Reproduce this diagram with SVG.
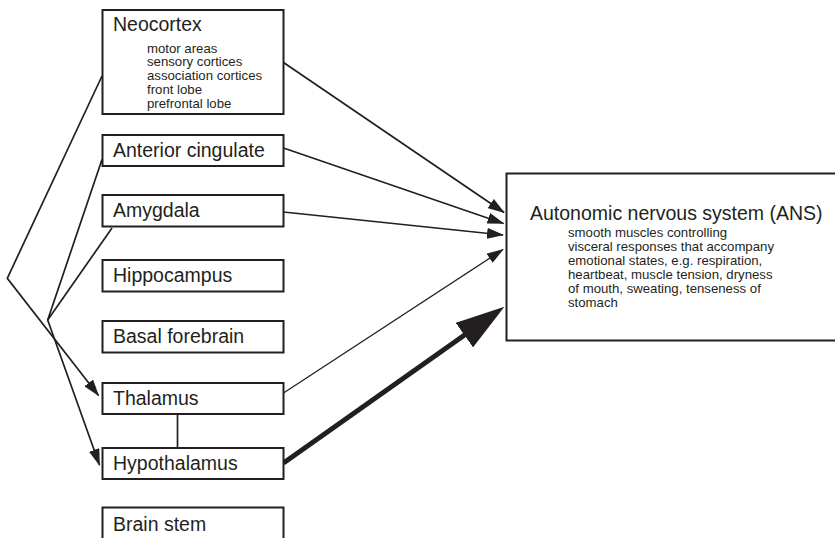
<svg xmlns="http://www.w3.org/2000/svg" width="835" height="538" viewBox="0 0 835 538">
  <style>
    .box { fill: #ffffff; stroke: #231f20; stroke-width: 2; }
    .label { font-family: "Liberation Sans", Arial, Helvetica, sans-serif; font-size: 19.5px; fill: #231f20; }
    .small { font-family: "Liberation Sans", Arial, Helvetica, sans-serif; font-size: 13.2px; fill: #231f20; }
    .wire { fill: none; stroke: #231f20; stroke-width: 1.7; }
    .thin { fill: none; stroke: #231f20; stroke-width: 1.3; }
    .thick { fill: none; stroke: #231f20; stroke-width: 5; }
  </style>
  <defs>
    <marker id="head" markerUnits="userSpaceOnUse" markerWidth="17" markerHeight="11" refX="16" refY="5.5" orient="auto">
      <path d="M0,0 L17,5.5 L0,11 Z" fill="#231f20"/>
    </marker>
    <marker id="bigHead" markerUnits="userSpaceOnUse" markerWidth="49" markerHeight="30" refX="2" refY="15" orient="auto">
      <path d="M0,0 L49,15 L0,30 Z" fill="#231f20"/>
    </marker>
  </defs>

  <rect width="835" height="538" fill="#ffffff"/>

  <!-- pathways -->
  <g id="connectors">
    <!-- cortical and limbic routes down to thalamus / hypothalamus -->
    <polyline class="wire" points="102,76 7.3,278.3 98.5,395.5" marker-end="url(#head)"/>
    <polyline class="wire" points="102,159.5 47.7,320 99.5,465" marker-end="url(#head)"/>
    <line class="wire" x1="112" y1="228" x2="47.7" y2="320"/>
    <!-- thalamus to hypothalamus -->
    <line class="wire" x1="177.5" y1="414" x2="177.5" y2="448"/>
    <!-- routes into the ANS -->
    <line class="wire" x1="283.5" y1="62.5" x2="504" y2="212.5" marker-end="url(#head)"/>
    <line class="wire" x1="283.5" y1="148" x2="503.5" y2="223.5" marker-end="url(#head)"/>
    <line class="wire" x1="283.5" y1="212" x2="503" y2="235" marker-end="url(#head)"/>
    <line class="thin" x1="283.5" y1="393" x2="503" y2="249.5" marker-end="url(#head)"/>
    <line class="thick" x1="283.5" y1="463" x2="466" y2="334" marker-end="url(#bigHead)"/>
  </g>

  <g id="neocortex">
    <rect class="box" x="102.5" y="10" width="181" height="104"/>
    <text class="label" x="113" y="31">Neocortex</text>
    <text class="small" x="147" y="52.5">motor areas</text>
    <text class="small" x="147" y="66.4">sensory cortices</text>
    <text class="small" x="147" y="80.3">association cortices</text>
    <text class="small" x="147" y="94.2">front lobe</text>
    <text class="small" x="147" y="108.1">prefrontal lobe</text>
  </g>
  <g id="anterior-cingulate">
    <rect class="box" x="102.5" y="135" width="181" height="31"/>
    <text class="label" x="113" y="157">Anterior cingulate</text>
  </g>
  <g id="amygdala">
    <rect class="box" x="102.5" y="195" width="181" height="31.5"/>
    <text class="label" x="113" y="217">Amygdala</text>
  </g>
  <g id="hippocampus">
    <rect class="box" x="102.5" y="260" width="181" height="31.5"/>
    <text class="label" x="113" y="282">Hippocampus</text>
  </g>
  <g id="basal-forebrain">
    <rect class="box" x="102.5" y="321" width="181" height="31.5"/>
    <text class="label" x="113" y="343">Basal forebrain</text>
  </g>
  <g id="thalamus">
    <rect class="box" x="102.5" y="383" width="181" height="31"/>
    <text class="label" x="113" y="405">Thalamus</text>
  </g>
  <g id="hypothalamus">
    <rect class="box" x="102.5" y="448" width="181" height="31"/>
    <text class="label" x="113" y="470">Hypothalamus</text>
  </g>
  <g id="brain-stem">
    <rect class="box" x="102.5" y="507.5" width="181" height="40"/>
    <text class="label" x="113" y="531">Brain stem</text>
  </g>
  <g id="ans">
    <rect class="box" x="506.5" y="173.5" width="340" height="167"/>
    <text class="label" x="530" y="220">Autonomic nervous system (ANS)</text>
    <text class="small" x="568" y="237">smooth muscles controlling</text>
    <text class="small" x="568" y="251">visceral responses that accompany</text>
    <text class="small" x="568" y="265">emotional states, e.g. respiration,</text>
    <text class="small" x="568" y="279">heartbeat, muscle tension, dryness</text>
    <text class="small" x="568" y="293">of mouth, sweating, tenseness of</text>
    <text class="small" x="568" y="307">stomach</text>
  </g>
</svg>
